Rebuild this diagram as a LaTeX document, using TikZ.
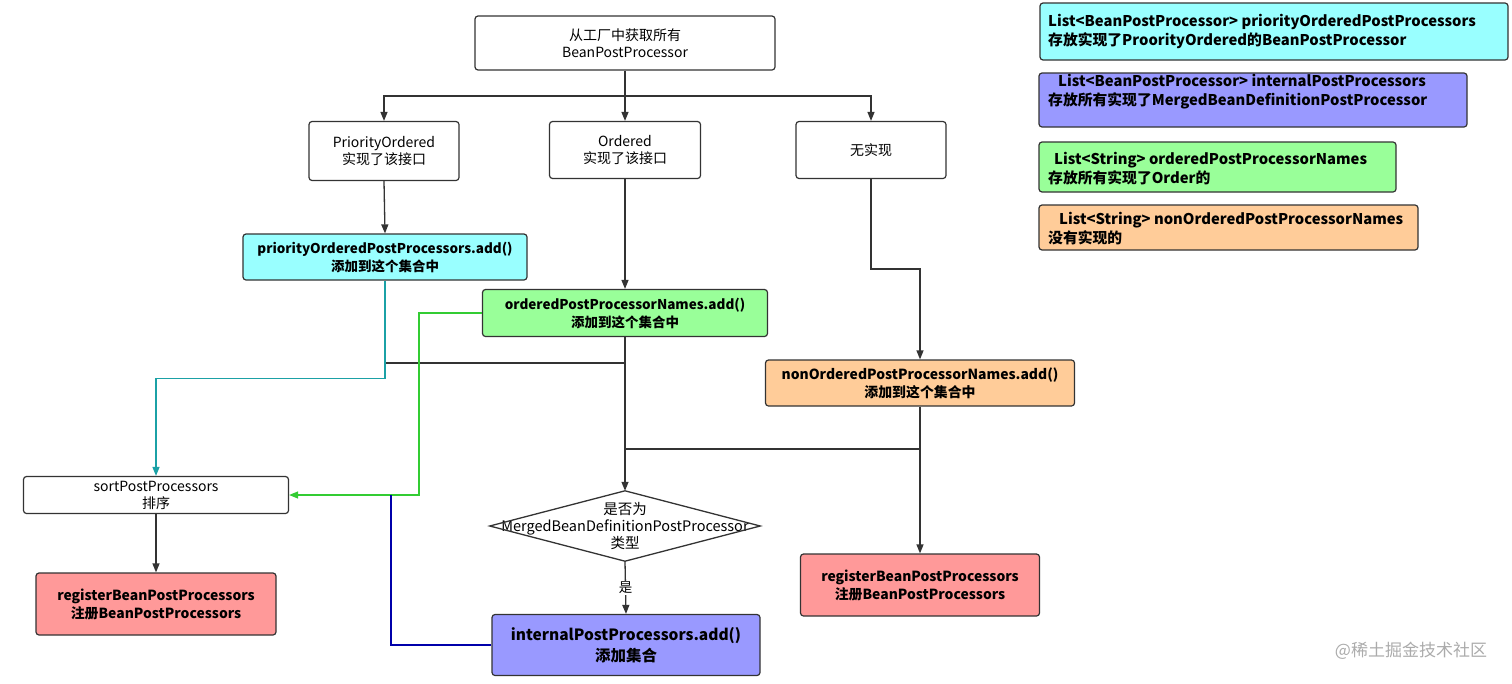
\documentclass[tikz,border=0pt]{standalone}
\usepackage{fontspec}
\setmainfont{Noto Sans CJK SC}
\usetikzlibrary{arrows.meta}
\definecolor{linegray}{HTML}{333333}
\definecolor{cyanfill}{HTML}{99FFFF}
\definecolor{violetfill}{HTML}{9999FF}
\definecolor{greenfill}{HTML}{99FF99}
\definecolor{orangefill}{HTML}{FFCC99}
\definecolor{redfill}{HTML}{FF9999}
\definecolor{tealline}{HTML}{1BA1A6}
\definecolor{greenline}{HTML}{33CC33}
\definecolor{blueline}{HTML}{0000AA}
\begin{document}
\begin{tikzpicture}[x=1pt,y=-1pt,
    box/.style={draw=linegray,line width=1.2pt,rounded corners=3pt,
      align=center,inner sep=0pt,font=\fontsize{14}{17}\selectfont},
    addbox/.style={box,font=\bfseries\fontsize{13.5}{18}\selectfont},
    bigadd/.style={box,font=\bfseries\fontsize{13.9}{18}\selectfont},
    note/.style={draw=linegray,line width=1.2pt,rounded corners=3pt},
    notetext/.style={anchor=west,align=left,inner sep=0pt,
      font=\bfseries\fontsize{14.8}{19}\selectfont},
    link/.style={draw=linegray,line width=1.3pt},
    flow/.style={link,-{Triangle[width=7pt,length=9pt]}}]
  \useasboundingbox (0,0) rectangle (1512,683);
  % main flow
  \node[box,minimum width=300,minimum height=54] (fetch) at (625,43)
    {从工厂中获取所有\\BeanPostProcessor};
  \node[box,minimum width=150,minimum height=59] (prio) at (384,151)
    {PriorityOrdered\\实现了该接口};
  \node[box,minimum width=151,minimum height=57] (ord) at (625,150)
    {Ordered\\实现了该接口};
  \node[box,minimum width=150,minimum height=57] (none) at (871,150) {无实现};
  \node[addbox,fill=cyanfill,minimum width=284,minimum height=46] (prioadd)
    at (385,257) {priorityOrderedPostProcessors.add()\\添加到这个集合中};
  \node[addbox,fill=greenfill,minimum width=285,minimum height=47] (ordadd)
    at (625,313) {orderedPostProcessorNames.add()\\添加到这个集合中};
  \node[bigadd,fill=orangefill,minimum width=309,minimum height=46] (nonadd)
    at (920,383) {nonOrderedPostProcessorNames.add()\\添加到这个集合中};
  \node[box,minimum width=265,minimum height=37] (sort) at (156,495)
    {sortPostProcessors\\排序};
  \node[inner sep=0pt,minimum width=270,minimum height=70,align=center,
    font=\fontsize{14.5}{17}\selectfont] (dec) at (625,526)
    {是否为\\MergedBeanDefinitionPostProcessor\\类型};
  \draw[link] (dec.north) -- (dec.east) -- (dec.south) -- (dec.west) -- cycle;
  \node[bigadd,fill=redfill,minimum width=240,minimum height=62] (regL)
    at (156,604) {registerBeanPostProcessors\\注册BeanPostProcessors};
  \node[bigadd,fill=redfill,minimum width=239,minimum height=62] (regR)
    at (920,585) {registerBeanPostProcessors\\注册BeanPostProcessors};
  \node[box,fill=violetfill,minimum width=268,minimum height=61,
    font=\bfseries\fontsize{15.5}{21}\selectfont] (internal) at (626,645)
    {internalPostProcessors.add()\\添加集合};
  % connectors
  \coordinate (split) at (625,96);
  \coordinate (joinA) at (625,363);
  \coordinate (joinB) at (625,449);
  \coordinate (joinC) at (391,495);
  \draw[link] (fetch.south) -- (split);
  \draw[flow] (split) -| (prio.north);
  \draw[flow] (split) -- (ord.north);
  \draw[flow] (split) -| (none.north);
  \draw[flow] (prio.south) -- (prioadd.north);
  \draw[flow] (ord.south) -- (ordadd.north);
  \draw[flow] (none.south) -- ++(0,90) -| (nonadd.north);
  \draw[link] (prioadd.south) |- (joinA);
  \draw[flow] (ordadd.south) -- (dec.north);
  \draw[link] (nonadd.south) |- (joinB);
  \draw[flow] (nonadd.south) -- (regR.north);
  \draw[flow] (sort.south) -- (regL.north);
  \draw[flow] (dec.south) -- node[fill=white,inner sep=1pt,
    font=\fontsize{13.5}{14}\selectfont] {是} (internal.north);
  \draw[flow,draw=tealline] (prioadd.south) -- ++(0,98) -| (sort.north);
  \draw[flow,draw=greenline] (ordadd.west) -| ++(-63,182) -- (sort.east);
  \draw[link,draw=blueline] (internal.west) -| (joinC);
  % legend
  \draw[note,fill=cyanfill] (1040,3) rectangle (1508,60);
  \node[notetext] (legprio) at (1048,31.5)
    {List<BeanPostProcessor> priorityOrderedPostProcessors\\
     存放实现了ProorityOrdered的BeanPostProcessor};
  \draw[note,fill=violetfill] (1039,73) rectangle (1467,127);
  \node[notetext] (leginternal) at (1048,91.5)
    {\hspace{10pt}List<BeanPostProcessor> internalPostProcessors\\
     存放所有实现了MergedBeanDefinitionPostProcessor};
  \draw[note,fill=greenfill] (1039,142) rectangle (1396,192);
  \node[notetext] (legord) at (1048,168.5)
    {\hspace{6pt}List<String> orderedPostProcessorNames\\
     存放所有实现了Order的};
  \draw[note,fill=orangefill] (1039,205) rectangle (1418,250);
  \node[notetext] (legnon) at (1048,228.5)
    {\hspace{11pt}List<String> nonOrderedPostProcessorNames\\
     没有实现的};
  \node[text=black!33,inner sep=0pt,font=\fontsize{17}{17}\selectfont]
    (mark) at (1411,651) {@稀土掘金技术社区};
\end{tikzpicture}
\end{document}
